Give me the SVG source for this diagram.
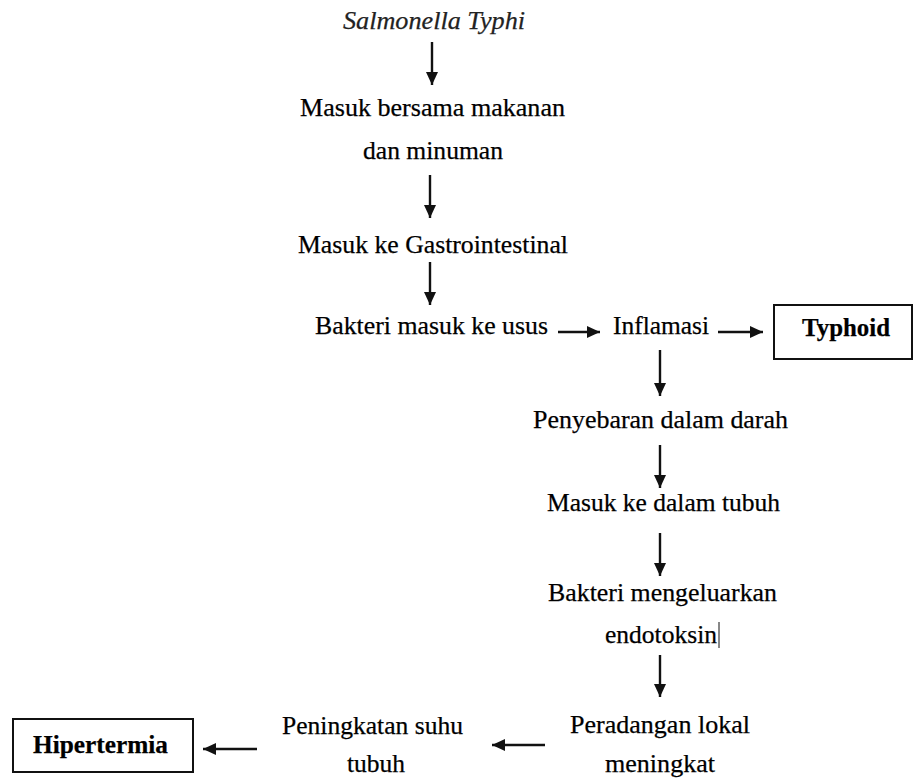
<svg xmlns="http://www.w3.org/2000/svg" width="913" height="779" viewBox="0 0 913 779">
<style>
text{font-family:"Liberation Serif","Times New Roman",Times,serif;font-size:26px;fill:#000;stroke:#000;stroke-width:0.25}
.it{font-style:italic;fill:#222;stroke:#222}
.b{font-weight:bold}
.box{fill:#fff;stroke:#111;stroke-width:2}
.arr{stroke:#111;stroke-width:2.4;fill:none;marker-end:url(#ah)}
</style>
<defs>
<marker id="ah" markerUnits="userSpaceOnUse" markerWidth="14" markerHeight="12" refX="13" refY="6" orient="auto">
<path d="M0,0 L13,6 L0,12 z" fill="#111"/>
</marker>
</defs>
<g id="connectors">
<line class="arr" x1="432" y1="42" x2="432" y2="85"/>
<line class="arr" x1="430" y1="175" x2="430" y2="218"/>
<line class="arr" x1="430" y1="262" x2="430" y2="305"/>
<line class="arr" x1="558" y1="332" x2="600" y2="332"/>
<line class="arr" x1="718" y1="332" x2="763" y2="332"/>
<line class="arr" x1="660" y1="350" x2="660" y2="396"/>
<line class="arr" x1="660" y1="445" x2="660" y2="488"/>
<line class="arr" x1="660" y1="533" x2="660" y2="576"/>
<line class="arr" x1="660" y1="655" x2="660" y2="697"/>
<line class="arr" x1="545" y1="745" x2="492" y2="745"/>
<line class="arr" x1="257" y1="749" x2="203" y2="749"/>
</g>
<g id="n-salmonella"><text class="it" x="343" y="29" textLength="182" lengthAdjust="spacingAndGlyphs">Salmonella Typhi</text></g>
<g id="n-masuk-makanan">
<text x="300" y="116" textLength="265" lengthAdjust="spacingAndGlyphs">Masuk bersama makanan</text>
<text x="363" y="159" textLength="140" lengthAdjust="spacingAndGlyphs">dan minuman</text>
</g>
<g id="n-gastro"><text x="298" y="253" textLength="270" lengthAdjust="spacingAndGlyphs">Masuk ke Gastrointestinal</text></g>
<g id="n-usus"><text x="315" y="334" textLength="233" lengthAdjust="spacingAndGlyphs">Bakteri masuk ke usus</text></g>
<g id="n-inflamasi"><text x="613" y="334" textLength="96" lengthAdjust="spacingAndGlyphs">Inflamasi</text></g>
<g id="n-typhoid">
<rect class="box" x="774" y="305" width="138" height="54"/>
<text class="b" x="802" y="336" textLength="88" lengthAdjust="spacingAndGlyphs">Typhoid</text>
</g>
<g id="n-darah"><text x="533" y="428" textLength="255" lengthAdjust="spacingAndGlyphs">Penyebaran dalam darah</text></g>
<g id="n-tubuh"><text x="547" y="511" textLength="233" lengthAdjust="spacingAndGlyphs">Masuk ke dalam tubuh</text></g>
<g id="n-endotoksin">
<text x="548" y="601" textLength="229" lengthAdjust="spacingAndGlyphs">Bakteri mengeluarkan</text>
<text x="605" y="643" textLength="112" lengthAdjust="spacingAndGlyphs">endotoksin</text>
<line x1="719" y1="622" x2="719" y2="648" stroke="#111" stroke-width="1"/>
</g>
<g id="n-peradangan">
<text x="570" y="733" textLength="180" lengthAdjust="spacingAndGlyphs">Peradangan lokal</text>
<text x="605" y="772" textLength="110" lengthAdjust="spacingAndGlyphs">meningkat</text>
</g>
<g id="n-suhu">
<text x="282" y="734" textLength="181" lengthAdjust="spacingAndGlyphs">Peningkatan suhu</text>
<text x="347" y="772" textLength="58" lengthAdjust="spacingAndGlyphs">tubuh</text>
</g>
<g id="n-hipertermia">
<rect class="box" x="13" y="719" width="180" height="53"/>
<text class="b" x="33" y="753" textLength="135" lengthAdjust="spacingAndGlyphs">Hipertermia</text>
</g>
</svg>
